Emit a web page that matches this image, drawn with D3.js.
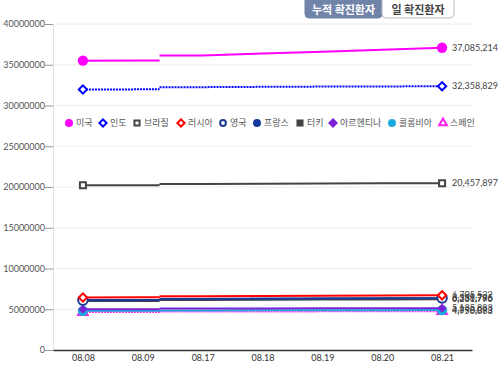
<!DOCTYPE html>
<html>
<head>
<meta charset="utf-8">
<script src="https://cdn.jsdelivr.net/npm/d3@7"></script>
<style>
  body { margin: 0; background: #fff; font-family: Lato, "Noto Sans CJK KR", sans-serif; }
  svg text { font-family: Lato, "Noto Sans CJK KR", sans-serif; }
</style>
</head>
<body>
<div id="chart"></div>
<script>
// dates on the x axis
var dates = ["08.08", "08.09", "08.17", "08.18", "08.19", "08.20", "08.21"];
var yTicks = [0, 5000000, 10000000, 15000000, 20000000, 25000000, 30000000, 35000000, 40000000];
var tabs = ["누적 확진환자", "일 확진환자"];

// cumulative confirmed cases per country
var usa       = [35500000, 35520000, 36150000, 36380000, 36610000, 36850000, 37085214];
var india     = [31970000, 31980000, 32250000, 32290000, 32320000, 32340000, 32358829];
var brazil    = [20200000, 20205000, 20380000, 20410000, 20430000, 20445000, 20457897];
var russia    = [6450000, 6460000, 6610000, 6630000, 6655000, 6680000, 6705532];
var uk        = [6110000, 6120000, 6280000, 6310000, 6340000, 6365000, 6388796];
var france    = [6120000, 6130000, 6270000, 6300000, 6320000, 6340000, 6359785];
var turkey    = [6000000, 6010000, 6140000, 6170000, 6190000, 6210000, 6231796];
var argentina = [5000000, 5005000, 5080000, 5095000, 5110000, 5120000, 5135883];
var colombia  = [4810000, 4815000, 4860000, 4870000, 4880000, 4890000, 4898093];
var spain     = [4650000, 4655000, 4720000, 4730000, 4740000, 4745000, 4750883];

var series = [
    { name: "미국", values: usa, color: "#ff00ff", symbol: "circle", filled: true, dash: null },
    { name: "인도", values: india, color: "#0000ff", symbol: "diamond", filled: false, dash: "2,1" },
    { name: "브라질", values: brazil, color: "#444444", symbol: "square", filled: false, dash: null },
    { name: "러시아", values: russia, color: "#ff0000", symbol: "diamond", filled: false, dash: null },
    { name: "영국", values: uk, color: "#1b3a96", symbol: "circle", filled: false, dash: "2,1" },
    { name: "프랑스", values: france, color: "#15399a", symbol: "circle", filled: true, dash: null },
    { name: "터키", values: turkey, color: "#444444", symbol: "square", filled: true, dash: null },
    { name: "아르헨티나", values: argentina, color: "#7a22d6", symbol: "diamond", filled: true, dash: null },
    { name: "콜롬비아", values: colombia, color: "#1ca9de", symbol: "circle", filled: true, dash: null },
    { name: "스페인", values: spain, color: "#ff22ee", symbol: "triangle", filled: false, dash: "2,1" }
];

var W = 500, H = 369;
var margin = { top: 24, right: 28, bottom: 19, left: 53 },
    width = W - margin.left - margin.right,
    height = H - margin.top - margin.bottom;

var svg = d3.select("#chart")
    .append("svg")
    .attr("width", W)
    .attr("height", H);

// tab buttons
var tabX = [305, 382], tabW = [77, 72];
tabs.forEach(function (t, i) {
    var g = svg.append("g").attr("transform", "translate(" + tabX[i] + ",-4)");
    g.append("rect")
        .attr("width", tabW[i]).attr("height", 22).attr("rx", 4)
        .attr("fill", i == 0 ? "#7084aa" : "#fff")
        .attr("stroke", i == 0 ? "#7084aa" : "#b8bfcc");
    g.append("text")
        .attr("x", tabW[i] / 2).attr("y", 18)
        .attr("text-anchor", "middle")
        .style("font-size", "11px")
        .style("font-weight", "bold")
        .style("font-family", "'Noto Sans CJK KR'")
        .attr("fill", i == 0 ? "#fff" : "#444")
        .text(t);
});

var chart = svg.append("g")
    .attr("transform", "translate(" + margin.left + "," + margin.top + ")");

var x = d3.scalePoint().domain(dates).range([0, width]).padding(0.5);
var y = d3.scaleLinear().domain([0, 40000000]).range([height, 0]);

// grid
chart.append("g")
    .selectAll("line")
    .data(yTicks.slice(1))
    .enter().append("line")
    .attr("x1", 0).attr("x2", width)
    .attr("y1", function (d) { return y(d); })
    .attr("y2", function (d) { return y(d); })
    .attr("stroke", "#ececec");

// y axis
var yAxis = chart.append("g")
    .call(d3.axisLeft(y).tickValues(yTicks).tickFormat(d3.format("d")).tickSize(8));
yAxis.select(".domain").attr("stroke", "#e2e2e2");
yAxis.selectAll(".tick line").attr("stroke", "#999");
yAxis.selectAll("text").attr("fill", "#555").style("font-size", "9px").attr("x", -8);

// x axis
var xAxis = chart.append("g")
    .attr("transform", "translate(0," + height + ")")
    .call(d3.axisBottom(x).tickSize(0).tickSizeOuter(0));
xAxis.select(".domain").attr("stroke", "#333").attr("stroke-width", 1.5);
xAxis.selectAll("text").attr("fill", "#333").style("font-size", "9px").attr("dy", "0.9em");

// segments that skip days break part-way, the rest are straight
var dayNum = dates.map(function (d) { return +d.split(".")[1]; });
function curveGapBreak(t) {
    return function (context) {
        var x0, y0, n = 0;
        return {
            areaStart: function () {}, areaEnd: function () {},
            lineStart: function () { n = 0; },
            lineEnd: function () {},
            point: function (px, py) {
                px = +px; py = +py;
                if (n === 0) context.moveTo(px, py);
                else if (dayNum[n] - dayNum[n - 1] > 1) {
                    var xm = x0 + (px - x0) * t;
                    context.lineTo(xm, y0);
                    context.moveTo(xm, py);
                    context.lineTo(px, py);
                } else context.lineTo(px, py);
                n++; x0 = px; y0 = py;
            }
        };
    };
}

var line = d3.line()
    .x(function (d, i) { return x(dates[i]); })
    .y(function (d) { return y(d); })
    .curve(curveGapBreak(0.28));

function symbolPath(s, size) {
    var type = { circle: d3.symbolCircle, diamond: d3.symbolSquare, square: d3.symbolSquare, triangle: d3.symbolTriangle }[s];
    return d3.symbol().type(type).size(size)();
}
var symSize = { circle: 70, diamond: 34, square: 36, triangle: 40 };

// draw bottom series first so the big ones stay on top
series.slice().reverse().forEach(function (s) {
    chart.append("path")
        .datum(s.values)
        .attr("fill", "none")
        .attr("stroke", s.color)
        .attr("stroke-width", 2)
        .attr("stroke-dasharray", s.dash)
        .attr("d", line);

    var ends = [0, s.values.length - 1];
    chart.selectAll(null)
        .data(ends)
        .enter().append("path")
        .attr("transform", function (i) {
            return "translate(" + x(dates[i]) + "," + y(s.values[i]) + ")" + (s.symbol == "diamond" ? " rotate(45)" : "");
        })
        .attr("d", symbolPath(s.symbol, s.filled ? symSize[s.symbol] * 1.2 : symSize[s.symbol]))
        .attr("fill", s.filled ? s.color : "#fff")
        .attr("stroke", s.color)
        .attr("stroke-width", s.filled ? 0 : 2);

    chart.append("text")
        .attr("x", x(dates[dates.length - 1]) + 10)
        .attr("y", y(s.values[s.values.length - 1]))
        .attr("dy", "0.35em")
        .attr("fill", "#444")
        .style("font-size", "9px")
        .text(d3.format(",")(s.values[s.values.length - 1]));
});

// legend
var legendX = [69, 103, 137, 181, 223, 257, 300, 333, 392, 443];
var legend = svg.append("g").attr("transform", "translate(0,123)");
series.forEach(function (s, i) {
    var g = legend.append("g").attr("transform", "translate(" + legendX[i] + ",0)");
    g.append("path")
        .attr("transform", s.symbol == "diamond" ? "rotate(45)" : null)
        .attr("d", symbolPath(s.symbol, s.filled ? 50 : 26))
        .attr("fill", s.filled ? s.color : "#fff")
        .attr("stroke", s.color)
        .attr("stroke-width", s.filled ? 0 : 2);
    g.append("text")
        .attr("x", 7).attr("dy", "0.35em")
        .attr("fill", "#555")
        .style("font-size", "9px")
        .style("font-family", "'Noto Sans CJK KR'")
        .text(s.name);
});
</script>
</body>
</html>
